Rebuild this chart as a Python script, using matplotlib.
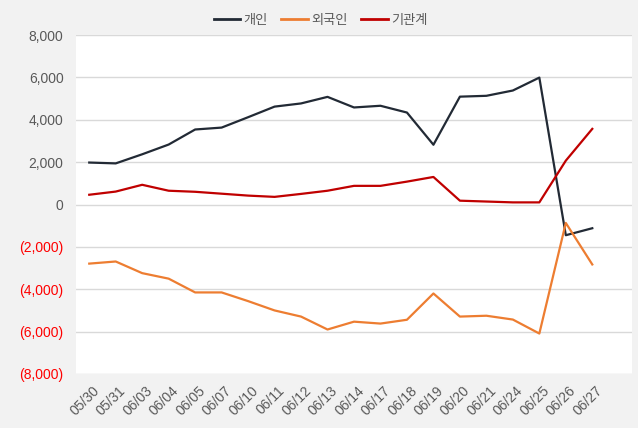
import matplotlib
matplotlib.use("Agg")
import matplotlib.pyplot as plt
import matplotlib.transforms as mtransforms
from matplotlib.patches import Rectangle
from matplotlib.ticker import FuncFormatter

plt.rcParams['font.family'] = ['Liberation Sans', 'Noto Sans CJK KR', 'DejaVu Sans']

dates = ["05/30", "05/31", "06/03", "06/04", "06/05", "06/07", "06/10", "06/11",
         "06/12", "06/13", "06/14", "06/17", "06/18", "06/19", "06/20", "06/21",
         "06/24", "06/25", "06/26", "06/27"]
individual = [1980, 1940, 2370, 2830, 3540, 3630, 4120, 4620, 4770, 5080,
              4580, 4660, 4340, 2820, 5090, 5130, 5380, 5990, -1450, -1120]
foreign = [-2790, -2690, -3240, -3500, -4150, -4150, -4560, -5000, -5290, -5900,
           -5530, -5620, -5440, -4200, -5290, -5250, -5430, -6090, -870, -2830]
institution = [460, 610, 930, 650, 600, 510, 420, 360, 500, 650,
               880, 880, 1080, 1300, 180, 140, 100, 100, 2070, 3570]
series_names = ["개인", "외국인", "기관계"]
series_colors = ["#222a35", "#ed7d31", "#c00000"]
y_ticks = [-8000, -6000, -4000, -2000, 0, 2000, 4000, 6000, 8000]

W, H = 643, 433
fig = plt.figure(figsize=(W / 100, H / 100), dpi=100)
fig.patch.set_facecolor("white")
fig.patches.append(Rectangle((0, 1 - 428 / H), 638 / W, 428 / H,
                             transform=fig.transFigure, facecolor="#f2f2f2",
                             edgecolor="none", zorder=-10))

ax = fig.add_axes([76 / W, 1 - 374 / H, (632 - 76) / W, (374 - 35) / H])
ax.set_facecolor("white")

x = list(range(len(dates)))
for vals, name, col in zip([individual, foreign, institution], series_names, series_colors):
    ax.plot(x, vals, color=col, lw=1.6, label=name, solid_joinstyle="round", zorder=3)

ax.set_xlim(-0.5, len(dates) + 0.5)
ax.set_ylim(-8000, 8000)
ax.set_yticks(y_ticks)

def fmt(v, pos):
    if v < 0:
        return "({:,.0f})".format(-v)
    return "{:,.0f}".format(v)

ax.yaxis.set_major_formatter(FuncFormatter(fmt))
ax.grid(axis="y", color="#d9d9d9", lw=1.0)
ax.set_axisbelow(True)
for s in ax.spines.values():
    s.set_visible(False)
ax.tick_params(axis="y", length=0, pad=9, labelsize=10, labelcolor="#595959")
for lab, v in zip(ax.get_yticklabels(), y_ticks):
    if v < 0:
        lab.set_color("#ff0000")

ax.set_xticks(x)
ax.set_xticklabels(dates, rotation=45, ha="right", va="top", rotation_mode="anchor",
                   fontsize=10, color="#595959")
ax.tick_params(axis="x", length=0, pad=7)
offset = mtransforms.ScaledTranslation(3 / 100, 0, fig.dpi_scale_trans)
for lab in ax.get_xticklabels():
    lab.set_transform(lab.get_transform() + offset)

leg = fig.legend(loc="center", bbox_to_anchor=(0.5 - 1 / W, 1 - 21 / H), ncol=3,
                 frameon=False, fontsize=9.5, handlelength=2.0, handletextpad=0.25,
                 columnspacing=1.05, labelcolor="#595959")
for h in leg.get_lines():
    h.set_linewidth(2)

fig.savefig("out.png", dpi=100, facecolor=fig.get_facecolor())
